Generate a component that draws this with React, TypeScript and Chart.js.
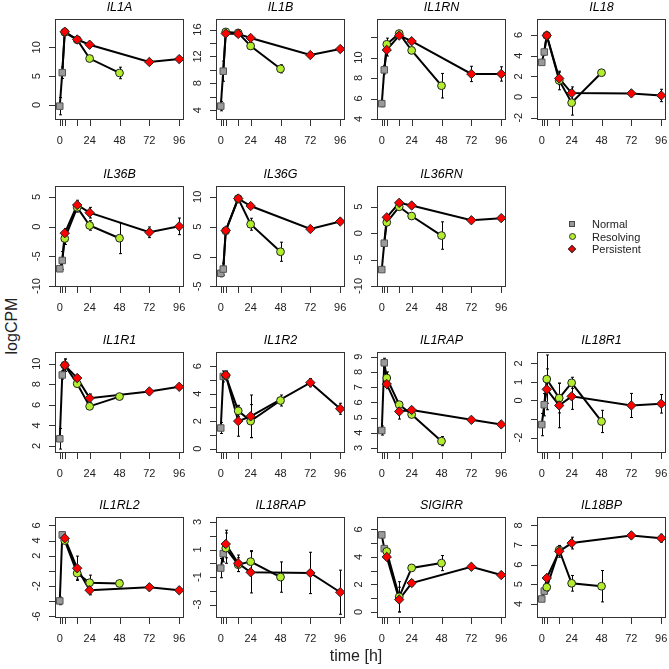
import React, { useEffect, useRef } from 'react';
import { Chart, registerables } from 'chart.js';
Chart.register(...registerables);

const genes = ['IL1A', 'IL1B', 'IL1RN', 'IL18', 'IL36B', 'IL36G', 'IL36RN', 'IL1R1', 'IL1R2', 'IL1RAP', 'IL18R1', 'IL1RL2', 'IL18RAP', 'SIGIRR', 'IL18BP'];
const cells = [[0, 0], [0, 1], [0, 2], [0, 3], [1, 0], [1, 1], [1, 2], [2, 0], [2, 1], [2, 2], [2, 3], [3, 0], [3, 1], [3, 2], [3, 3]];

const timesNormal = [0, 2];
const timesResolving = [4, 14, 24, 48];
const timesPersistent = [4, 14, 24, 72, 96];
const xTicks = [0, 2, 4, 14, 24, 48, 72, 96];
const xLabels = [0, 24, 48, 72, 96];
const xRange = [-3.84, 99.84];

const normalMean = [
  [-0.2, 5.6], [4.6, 9.8], [5.5, 8.8], [3.35, 4.35], [-7.1, -5.7], [-2.8, -2.1], [-6.9, -1.9],
  [2.7, 8.9], [1.5, 5.25], [4.15, 8.6], [-1.3, -0.23], [-3.95, 4.75], [-0.35, 0.7], [5.6, 4.6], [4.25, 4.65],
];
const normalErr = [
  [1.5, 1.0], [0.7, 1.5], [0.3, 0.4], [0.2, 0.3], [0.3, 1.5], [0.6, 1.0], [0.3, 0.3],
  [1.0, 0.4], [0.4, 0.4], [0.3, 0.3], [0.6, 0.6], [0.5, 0.4], [0.7, 0.6], [0.2, 0.2], [0.1, 0.1],
];
const resolvingMean = [
  [12.6, 11.3, 8.05, 5.55], [15.65, 15.5, 13.55, 10.15], [11.3, 12.35, 10.7, 7.25], [5.95, 1.6, -0.55, 2.35],
  [-2.0, 3.25, 0.2, -1.95], [4.3, 9.7, 5.4, 0.8], [2.05, 5.0, 3.25, -0.45], [9.85, 8.05, 5.85, 6.8],
  [5.3, 2.75, 2.0, 3.5], [7.6, 5.85, 5.2, 3.45], [1.15, 0.13, 0.95, -1.13], [4.0, -0.3, -1.55, -1.65],
  [1.1, -0.1, 0.12, -1.0], [4.4, 1.1, 3.2, 3.55], [4.85, 6.75, 5.05, 4.9],
];
const resolvingErr = [
  [0.5, 0.4, 0.5, 1.0], [0.4, 0.3, 0.4, 0.6], [0.6, 0.2, 0.3, 1.2], [0.3, 0.9, 1.2, 0.2],
  [1.0, 0.8, 0.8, 2.6], [0.5, 0.4, 1.0, 1.6], [0.5, 0.5, 0.4, 2.6], [0.6, 0.3, 0.3, 0.2],
  [0.3, 0.4, 1.2, 0.4], [0.4, 0.2, 0.2, 0.3], [1.3, 0.8, 0.3, 0.6], [0.3, 0.8, 1.0, 0.45],
  [1.1, 0.5, 0.8, 1.1], [0.2, 1.1, 0.2, 0.55], [0.2, 0.2, 0.4, 0.8],
];
const persistentMean = [
  [12.7, 11.35, 10.45, 7.45, 7.95], [15.4, 15.35, 14.75, 12.2, 13.1], [10.75, 12.15, 11.6, 8.4, 8.4],
  [5.95, 1.8, 0.38, 0.35, 0.15], [-1.1, 3.65, 2.35, -0.95, 0.05], [4.35, 9.7, 8.45, 4.6, 5.85],
  [3.0, 5.75, 5.25, 2.45, 2.85], [9.85, 8.6, 6.65, 7.3, 7.75], [5.35, 2.0, 2.35, 4.8, 2.9],
  [7.2, 5.4, 5.5, 4.85, 4.55], [0.6, -0.27, 0.22, -0.27, -0.18], [4.3, 0.35, -2.55, -2.15, -2.55],
  [1.4, 0.0, -0.65, -0.7, -2.1], [4.0, 0.9, 2.1, 3.28, 2.68], [5.32, 6.68, 7.1, 7.49, 7.35],
];
const persistentErr = [
  [0.5, 0.3, 0.4, 0.4, 0.3], [0.4, 0.3, 0.3, 0.4, 0.3], [0.6, 0.2, 0.2, 0.75, 0.7],
  [0.3, 0.6, 0.6, 0.25, 0.6], [0.8, 0.8, 0.9, 0.9, 1.4], [0.4, 0.4, 0.4, 0.4, 0.3],
  [0.4, 0.4, 0.3, 0.3, 0.3], [0.6, 0.3, 0.4, 0.2, 0.2], [0.3, 1.1, 1.55, 0.3, 0.4],
  [0.3, 0.5, 0.15, 0.15, 0.15], [1.1, 1.2, 0.7, 0.65, 0.5], [0.3, 1.6, 0.6, 0.2, 0.2],
  [1.0, 0.6, 1.5, 1.5, 1.6], [0.2, 0.9, 0.2, 0.2, 0.2], [0.2, 0.3, 0.3, 0.15, 0.2],
];
const yRanges = [
  [-2.6, 14.9], [2.53, 17.57], [3.9, 13.77], [-2.22, 7.54], [-10.17, 6.85], [-5.1, 11.8], [-10.2, 8.94],
  [1.32, 11.13], [-0.32, 7.03], [2.67, 9.31], [-2.83, 2.61], [-6.2, 7.1], [-3.97, 3.36], [-0.44, 6.9], [3.28, 8.43],
];
const yTicks = [
  [0, 5, 10], [4, 6, 8, 10, 12, 14, 16], [4, 6, 8, 10, 12], [-2, 0, 2, 4, 6], [-10, -5, 0, 5], [-5, 0, 5, 10], [-10, -5, 0, 5],
  [2, 4, 6, 8, 10], [0, 1, 2, 3, 4, 5, 6], [3, 4, 5, 6, 7, 8, 9], [-2, -1, 0, 1, 2], [-6, -4, -2, 0, 2, 4, 6],
  [-3, -2, -1, 0, 1, 2, 3], [0, 1, 2, 3, 4, 5, 6], [4, 5, 6, 7, 8],
];
const yLabels = [
  [0, 5, 10], [4, 8, 12, 16], [4, 6, 8, 10], [-2, 0, 2, 4, 6], [-10, -5, 0, 5], [-5, 0, 5, 10], [-10, -5, 0, 5],
  [2, 4, 6, 8, 10], [0, 2, 4, 6], [3, 4, 5, 6, 7, 8, 9], [-2, 0, 1, 2], [-6, -2, 2, 4, 6],
  [-3, -1, 1, 3], [0, 2, 4, 6], [4, 5, 6, 7, 8],
];
const legendLabels = ['Normal', 'Resolving', 'Persistent'];

const FONT = "'Liberation Sans', Arial, Helvetica, sans-serif";
const GRAY = '#9a9a9a';
const GREEN = '#b2ee2e';
const RED = '#ff0000';
const EDGE = '#222222';

const colLeft = [55, 216, 377, 537];
const rowTop = [19, 186, 352, 517];
const BOX_W = 129;
const BOX_H = 101;
const PAD_L = 34, PAD_T = 20, PAD_R = 10, PAD_B = 32;
const CW = PAD_L + BOX_W + PAD_R;
const CH = PAD_T + BOX_H + PAD_B;

function pts(xs: number[], ys: number[]) {
  return xs.map((x, k) => ({ x, y: ys[k] }));
}

function makePlugin(i: number) {
  const drawErr = (ctx: CanvasRenderingContext2D, sx: any, sy: any, xs: number[], ys: number[], es: number[]) => {
    for (let k = 0; k < xs.length; k++) {
      const px = Math.round(sx.getPixelForValue(xs[k])) + 0.5;
      const y1 = sy.getPixelForValue(ys[k] - es[k]);
      const y2 = sy.getPixelForValue(ys[k] + es[k]);
      ctx.beginPath();
      ctx.moveTo(px, y1); ctx.lineTo(px, y2);
      ctx.moveTo(px - 1.5, y1); ctx.lineTo(px + 1.5, y1);
      ctx.moveTo(px - 1.5, y2); ctx.lineTo(px + 1.5, y2);
      ctx.stroke();
    }
  };
  return {
    id: 'panelDecor' + i,
    beforeDatasetsDraw(chart: any) {
      const ctx = chart.ctx as CanvasRenderingContext2D;
      const sx = chart.scales.x, sy = chart.scales.y;
      ctx.save();
      ctx.strokeStyle = '#000';
      ctx.lineWidth = 1;
      drawErr(ctx, sx, sy, timesNormal, normalMean[i], normalErr[i]);
      drawErr(ctx, sx, sy, timesResolving, resolvingMean[i], resolvingErr[i]);
      drawErr(ctx, sx, sy, timesPersistent, persistentMean[i], persistentErr[i]);
      ctx.restore();
    },
    afterDraw(chart: any) {
      const ctx = chart.ctx as CanvasRenderingContext2D;
      const a = chart.chartArea;
      const sx = chart.scales.x, sy = chart.scales.y;
      ctx.save();
      ctx.strokeStyle = '#333';
      ctx.lineWidth = 1;
      ctx.strokeRect(Math.round(a.left) + 0.5, Math.round(a.top) + 0.5, Math.round(a.right - a.left) - 1, Math.round(a.bottom - a.top) - 1);
      // x ticks
      ctx.beginPath();
      for (const t of xTicks) {
        const px = Math.round(sx.getPixelForValue(t)) + 0.5;
        ctx.moveTo(px, a.bottom);
        ctx.lineTo(px, a.bottom + 6);
      }
      for (const v of yTicks[i]) {
        const py = Math.round(sy.getPixelForValue(v)) + 0.5;
        ctx.moveTo(a.left, py);
        ctx.lineTo(a.left - 6, py);
      }
      ctx.stroke();
      ctx.fillStyle = '#222';
      ctx.font = `11px ${FONT}`;
      ctx.textAlign = 'center';
      ctx.textBaseline = 'middle';
      for (const t of xLabels) {
        ctx.fillText(String(t), sx.getPixelForValue(t), a.bottom + 21);
      }
      for (const v of yLabels[i]) {
        const py = sy.getPixelForValue(v);
        ctx.save();
        ctx.translate(a.left - 18, py);
        ctx.rotate(-Math.PI / 2);
        ctx.fillText(String(v), 0, 0);
        ctx.restore();
      }
      ctx.fillStyle = '#000';
      ctx.font = `italic 12.5px ${FONT}`;
      ctx.fillText(genes[i], (a.left + a.right) / 2, a.top - 11.5);
      ctx.restore();
    },
  };
}

function Panel({ i }: { i: number }) {
  const ref = useRef<HTMLCanvasElement>(null);
  useEffect(() => {
    const nLast = { x: timesNormal[timesNormal.length - 1], y: normalMean[i][normalMean[i].length - 1] };
    const lineBase = { showLine: true, borderColor: '#000', borderWidth: 2, pointRadius: 0, order: 10, backgroundColor: '#000' };
    const chart = new Chart(ref.current as HTMLCanvasElement, {
      type: 'scatter',
      data: {
        datasets: [
          { ...lineBase, label: 'normal line', data: pts(timesNormal, normalMean[i]) },
          { ...lineBase, label: 'resolving line', data: [nLast, ...pts(timesResolving, resolvingMean[i])] },
          { ...lineBase, label: 'persistent line', data: [nLast, ...pts(timesPersistent, persistentMean[i])] },
          {
            label: legendLabels[0], data: pts(timesNormal, normalMean[i]), showLine: false, order: 3,
            pointStyle: 'rect', pointRadius: 4.6, backgroundColor: GRAY, borderColor: '#555', borderWidth: 1,
          },
          {
            label: legendLabels[1], data: pts(timesResolving, resolvingMean[i]), showLine: false, order: 2,
            pointStyle: 'circle', pointRadius: 3.9, backgroundColor: GREEN, borderColor: EDGE, borderWidth: 1,
          },
          {
            label: legendLabels[2], data: pts(timesPersistent, persistentMean[i]), showLine: false, order: 1,
            pointStyle: 'rectRot', pointRadius: 4.7, backgroundColor: RED, borderColor: EDGE, borderWidth: 1,
          },
        ] as any,
      },
      options: {
        responsive: false,
        animation: false,
        events: [],
        layout: { padding: { left: PAD_L, top: PAD_T, right: PAD_R, bottom: PAD_B } },
        scales: {
          x: { type: 'linear', min: xRange[0], max: xRange[1], display: false },
          y: { type: 'linear', min: yRanges[i][0], max: yRanges[i][1], display: false },
        },
        plugins: { legend: { display: false }, tooltip: { enabled: false } },
        elements: { line: { tension: 0 } },
      } as any,
      plugins: [makePlugin(i)],
    });
    return () => chart.destroy();
  }, [i]);
  const [r, c] = cells[i];
  return (
    <canvas
      ref={ref}
      width={CW}
      height={CH}
      style={{ position: 'absolute', left: colLeft[c] - PAD_L, top: rowTop[r] - PAD_T, width: CW, height: CH }}
    />
  );
}

function LegendMarker({ kind }: { kind: number }) {
  if (kind === 0) {
    return <div style={{ position: 'absolute', left: -3, top: -3, width: 4, height: 4, background: GRAY, border: '1px solid #444' }} />;
  }
  if (kind === 1) {
    return <div style={{ position: 'absolute', left: -3.5, top: -3.5, width: 5, height: 5, borderRadius: '50%', background: GREEN, border: '1px solid #333' }} />;
  }
  return <div style={{ position: 'absolute', left: -3, top: -3, width: 4, height: 4, background: RED, border: '1px solid #333', transform: 'rotate(45deg)' }} />;
}

export default function App() {
  useEffect(() => {
    document.body.style.margin = '0';
  }, []);
  const legendY = [224, 236.5, 249];
  return (
    <div style={{ position: 'absolute', left: 0, top: 0, width: 669, height: 669, overflow: 'hidden', background: '#fff', fontFamily: FONT }}>
      {genes.map((_, i) => <Panel key={i} i={i} />)}
      {legendLabels.map((lab, k) => (
        <div key={lab}>
          <div style={{ position: 'absolute', left: 572, top: legendY[k] }}>
            <LegendMarker kind={k} />
          </div>
          <div style={{ position: 'absolute', left: 592, top: legendY[k] - 7, fontSize: 11, lineHeight: '14px', color: '#222', whiteSpace: 'nowrap' }}>{lab}</div>
        </div>
      ))}
      <div style={{ position: 'absolute', left: 356 - 60, top: 647, width: 120, textAlign: 'center', fontSize: 16, lineHeight: '18px', color: '#222' }}>time [h]</div>
      <div style={{ position: 'absolute', left: 12 - 60, top: 326 - 9, width: 120, height: 18, textAlign: 'center', fontSize: 16, lineHeight: '18px', color: '#222', transform: 'rotate(-90deg)' }}>logCPM</div>
    </div>
  );
}
